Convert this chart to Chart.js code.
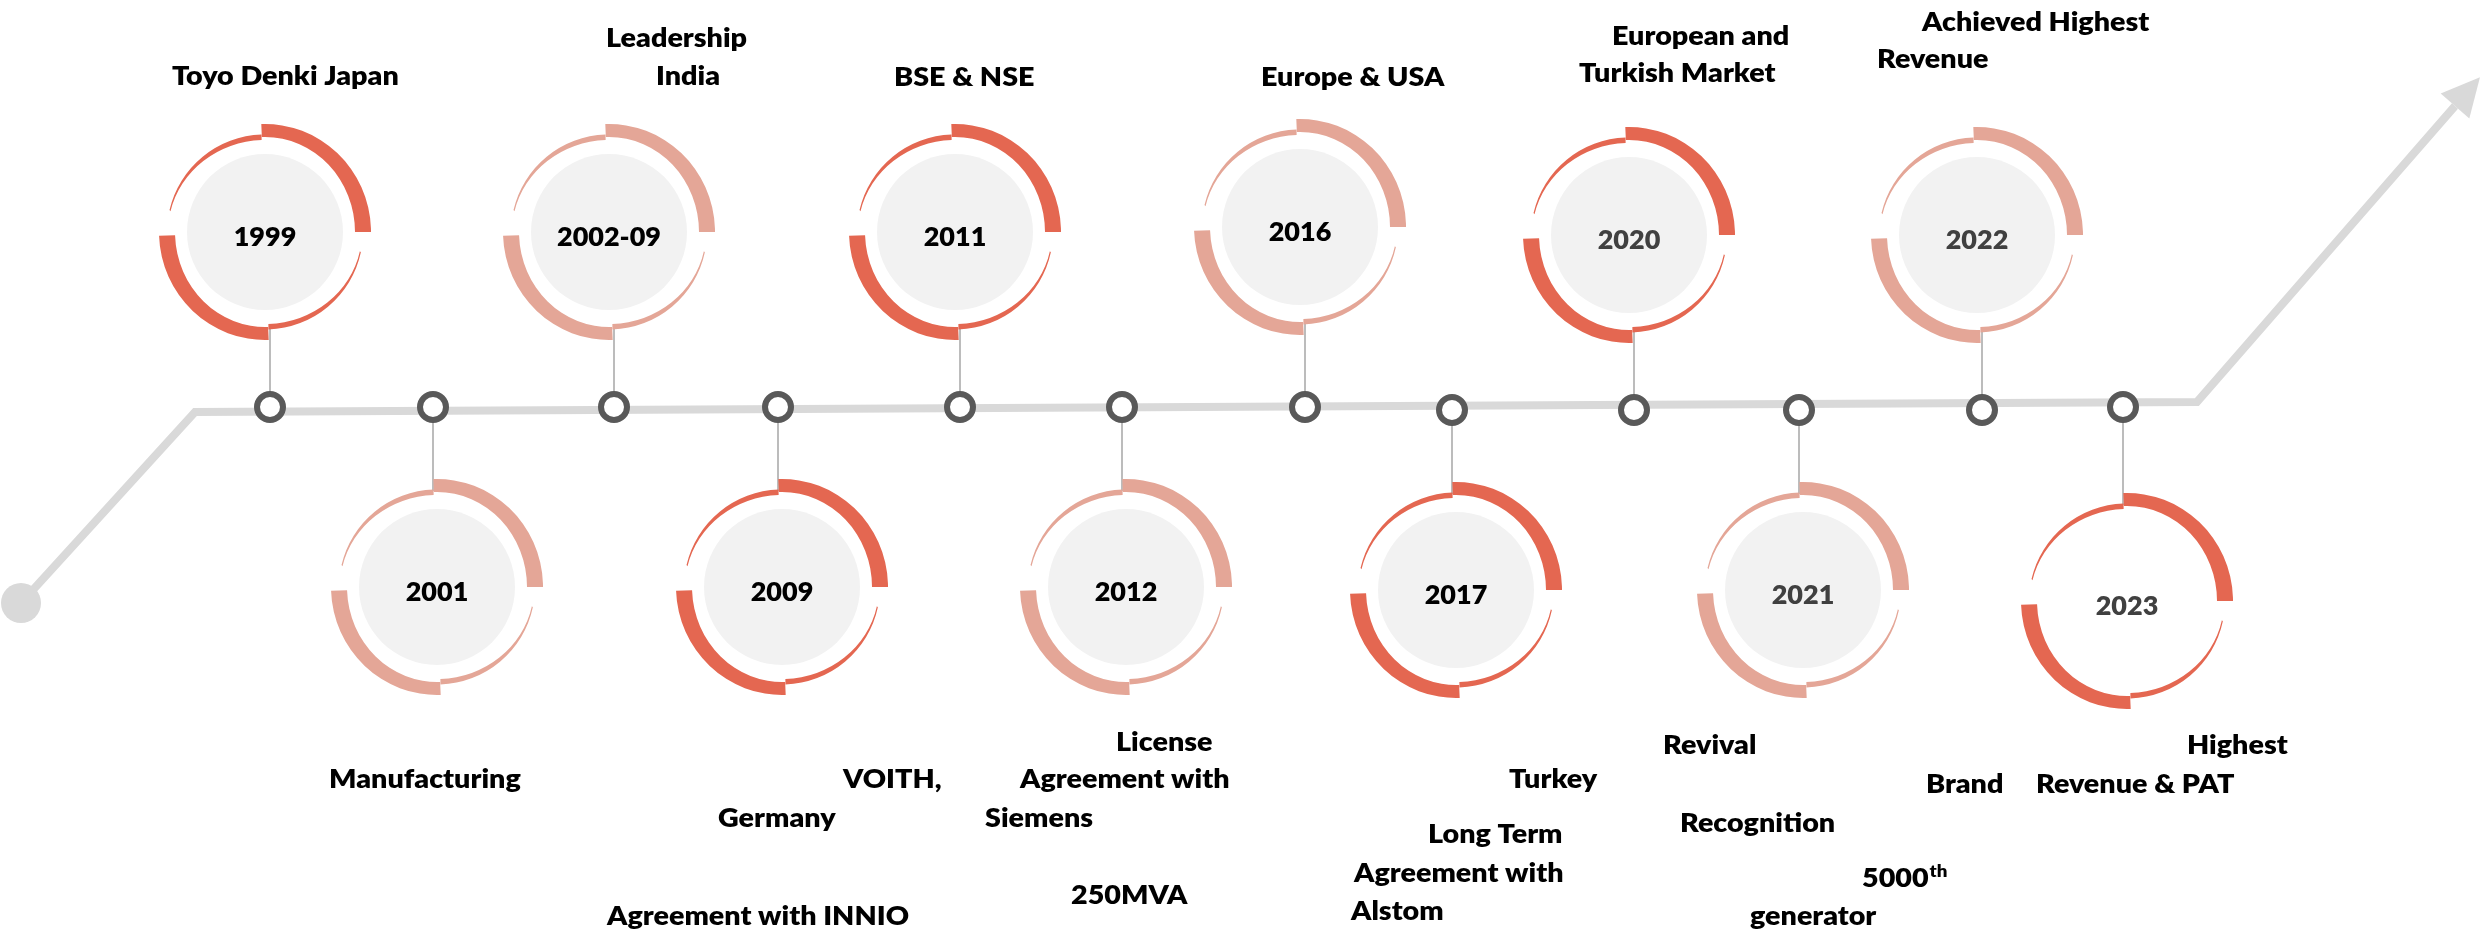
<!DOCTYPE html>
<html lang="en">
<head>
    <meta charset="UTF-8">
    <title>Company Milestones Timeline</title>
    <script src="https://cdn.jsdelivr.net/npm/chart.js"></script>
    <style>
        html, body { margin: 0; padding: 0; background: #fff; }
        #timeline { display: block; }
    </style>
</head>
<body>
    <canvas id="timeline" width="2484" height="933"></canvas>

    <script>
        // milestones, left to right
        const years = ['1999', '2001', '2002-09', '2009', '2011', '2012', '2016', '2017', '2020', '2021', '2022', '2023'];
        const shade = ['dark', 'light', 'light', 'dark', 'dark', 'light', 'light', 'dark', 'dark', 'light', 'light', 'dark'];

        // where each milestone sits on the timeline, and where its badge sits (picture units)
        const markerX = [270, 433, 614, 778, 960, 1122, 1305, 1452, 1634, 1799, 1982, 2123];
        const markerY = [407, 407, 407, 407, 407, 407, 407, 410, 410, 410, 410, 407];
        const badgeY = [232, 587, 232, 587, 232, 587, 227, 590, 235, 590, 235, 601];

        // the grey track: start ball, bend, bend, arrow
        const trackX = [21, 195, 2197, 2455];
        const trackY = [603, 412, 402, 106];

        // caption lines: [text, left, baseline, superscript]
        const captions = [
            [['Toyo Denki Japan', 172, 85]],
            [['Manufacturing', 329, 788]],
            [['Leadership', 606, 47], ['India', 656, 85]],
            [['VOITH,', 843, 788], ['Germany', 718, 827], ['Agreement with INNIO', 607, 925]],
            [['BSE & NSE', 894, 86]],
            [['License', 1116, 751], ['Agreement with', 1020, 788], ['Siemens', 985, 827], ['250MVA', 1071, 904]],
            [['Europe & USA', 1261, 86]],
            [['Turkey', 1509, 788], ['Long Term', 1428, 843], ['Agreement with', 1354, 882], ['Alstom', 1351, 920]],
            [['European and', 1612, 45], ['Turkish Market', 1579, 82]],
            [['Revival', 1663, 754], ['Recognition', 1680, 832], ['5000', 1862, 887, 'th'], ['generator', 1750, 925]],
            [['Achieved Highest', 1922, 31], ['Revenue', 1877, 68]],
            [['Brand', 1926, 793], ['Highest', 2187, 754], ['Revenue & PAT', 2036, 793]]
        ];

        const DARK = '#e46751';
        const LIGHT = '#e4a697';
        const FAMILY = 'Lato, "Open Sans", sans-serif';
        const CAPTION_FONT = '800 26px ' + FAMILY;
        const YEAR_FONT = '800 26px ' + FAMILY;
        const SUP_FONT = '800 17px ' + FAMILY;

        function band(ctx, x, y, rxo, ryo, rxi, ryi, a0, a1) {
            const r0 = a0 * Math.PI / 180, r1 = a1 * Math.PI / 180;
            ctx.beginPath();
            ctx.ellipse(x, y, rxo, ryo, 0, r0, r1, false);
            ctx.ellipse(x, y, rxi, ryi, 0, r1, r0, true);
            ctx.closePath();
            ctx.fill();
        }

        // draw text widened a little to get the Calibri-like proportions of the original
        function wideText(ctx, text, x, y, k) {
            ctx.save();
            ctx.translate(x, y);
            ctx.scale(k, 1);
            ctx.fillText(text, 0, 0);
            ctx.restore();
            return ctx.measureText(text).width * k;
        }

        const timelinePlugin = {
            id: 'timelineDecor',
            beforeDatasetsDraw(chart) {
                const ctx = chart.ctx;
                const xs = chart.scales.x, ys = chart.scales.y;
                ctx.save();
                // connectors between track and badge
                ctx.strokeStyle = '#a6a6a6';
                ctx.lineWidth = 1.5;
                years.forEach((yr, i) => {
                    const mx = xs.getPixelForValue(markerX[i]);
                    const my = ys.getPixelForValue(markerY[i]);
                    const cy = ys.getPixelForValue(badgeY[i]);
                    const end = cy < my ? cy + 96 : cy - 96;
                    ctx.beginPath();
                    ctx.moveTo(mx, my);
                    ctx.lineTo(mx, end);
                    ctx.stroke();
                });
                ctx.restore();
            },
            afterDatasetsDraw(chart) {
                const ctx = chart.ctx;
                const xs = chart.scales.x, ys = chart.scales.y;
                ctx.save();

                // arrow head at the end of the track
                const track = chart.getDatasetMeta(0).data;
                const a = track[track.length - 2], b = track[track.length - 1];
                const len = Math.hypot(b.x - a.x, b.y - a.y);
                const ux = (b.x - a.x) / len, uy = (b.y - a.y) / len;
                ctx.fillStyle = '#d9d9d9';
                ctx.beginPath();
                ctx.moveTo(b.x + ux * 38, b.y + uy * 38);
                ctx.lineTo(b.x - uy * 19, b.y + ux * 19);
                ctx.lineTo(b.x + uy * 19, b.y - ux * 19);
                ctx.closePath();
                ctx.fill();

                // widening factors, measured against known widths in the original
                ctx.font = CAPTION_FONT;
                const kCap = 302 / ctx.measureText('Agreement with INNIO').width;
                ctx.font = YEAR_FONT;
                const kYear = 104 / ctx.measureText('2002-09').width;

                // badge rings and years
                chart.getDatasetMeta(2).data.forEach((pt, i) => {
                    const x = pt.x, y = pt.y;
                    ctx.fillStyle = shade[i] === 'dark' ? DARK : LIGHT;
                    band(ctx, x, y, 106, 108, 90, 95, -92, 0);
                    band(ctx, x, y, 106, 108, 90, 95, 88, 178);
                    band(ctx, x, y, 98, 97.5, 97, 92, 12, 88);
                    band(ctx, x, y, 98, 97.5, 97, 92, 193, 268);

                    ctx.fillStyle = i >= 8 ? '#404040' : '#000000';
                    ctx.font = YEAR_FONT;
                    ctx.textAlign = 'left';
                    ctx.textBaseline = 'alphabetic';
                    const w = ctx.measureText(years[i]).width * kYear;
                    wideText(ctx, years[i], x - w / 2, y + 14, kYear);
                });

                // captions
                ctx.fillStyle = '#000000';
                ctx.textAlign = 'left';
                ctx.textBaseline = 'alphabetic';
                captions.forEach(lines => {
                    lines.forEach(([text, lx, ly, sup]) => {
                        const px = xs.getPixelForValue(lx);
                        const py = ys.getPixelForValue(ly);
                        ctx.font = CAPTION_FONT;
                        const w = wideText(ctx, text, px, py, kCap);
                        if (sup) {
                            ctx.font = SUP_FONT;
                            wideText(ctx, sup, px + w + 1, py - 10, kCap);
                        }
                    });
                });
                ctx.restore();
            }
        };

        function drawTimeline() {
            const ctx = document.getElementById('timeline').getContext('2d');
            new Chart(ctx, {
                type: 'scatter',
                data: {
                    datasets: [{
                        label: 'track',
                        data: trackX.map((x, i) => ({ x: x, y: trackY[i] })),
                        showLine: true,
                        borderColor: '#d9d9d9',
                        borderWidth: 8,
                        borderJoinStyle: 'miter',
                        pointRadius: trackX.map((x, i) => i === 0 ? 20 : 0),
                        pointBackgroundColor: '#d9d9d9',
                        pointBorderWidth: 0,
                        order: 3,
                        clip: false
                    },
                    {
                        label: 'milestones',
                        data: markerX.map((x, i) => ({ x: x, y: markerY[i] })),
                        pointRadius: 13,
                        pointBorderWidth: 6,
                        pointBorderColor: '#595959',
                        pointBackgroundColor: '#ffffff',
                        order: 1,
                        clip: false
                    },
                    {
                        label: 'badges',
                        data: markerX.map((x, i) => ({
                            x: x + (badgeY[i] < markerY[i] ? -5 : 4),
                            y: badgeY[i]
                        })),
                        pointRadius: 78,
                        pointBorderWidth: 0,
                        pointBackgroundColor: years.map(y => y === '2023' ? '#ffffff' : '#f2f2f2'),
                        order: 2,
                        clip: false
                    }]
                },
                options: {
                    responsive: false,
                    devicePixelRatio: 1,
                    animation: false,
                    layout: { padding: 0, autoPadding: false },
                    scales: {
                        x: { type: 'linear', min: 0, max: 2484, display: false },
                        y: { type: 'linear', min: 0, max: 933, reverse: true, display: false }
                    },
                    plugins: {
                        legend: { display: false },
                        tooltip: { enabled: false }
                    },
                    events: []
                },
                plugins: [timelinePlugin]
            });
        }

        if (document.fonts && document.fonts.load) {
            document.fonts.load(CAPTION_FONT).then(drawTimeline, drawTimeline);
        } else {
            drawTimeline();
        }
    </script>
</body>
</html>
